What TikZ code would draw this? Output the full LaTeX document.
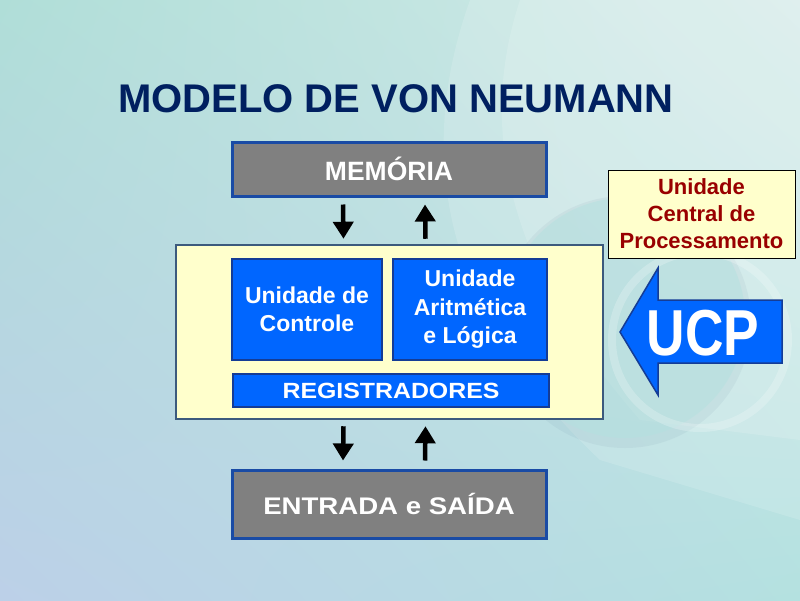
\documentclass[tikz,border=0pt]{standalone}
\usepackage{fontspec}
\setmainfont{Liberation Sans}
\usetikzlibrary{arrows.meta,shadings}
\definecolor{bgA}{RGB}{176,222,216}
\definecolor{bgB}{RGB}{212,235,233}
\definecolor{bgC}{RGB}{188,208,232}
\definecolor{bgD}{RGB}{180,225,224}
\definecolor{titleblue}{RGB}{0,32,96}
\definecolor{boxgray}{RGB}{128,128,128}
\definecolor{edgeblue}{RGB}{25,75,165}
\definecolor{fillblue}{RGB}{0,102,255}
\definecolor{inneredge}{RGB}{20,60,150}
\definecolor{cpuedge}{RGB}{60,90,125}
\definecolor{paleyellow}{RGB}{255,255,204}
\definecolor{darkred}{RGB}{153,0,0}
\tikzset{
  graybox/.style={draw=edgeblue, line width=3pt, fill=boxgray, inner sep=0pt, text=white},
  bluebox/.style={draw=inneredge, line width=2.5pt, fill=fillblue, inner sep=0pt, text=white, align=center},
  cpubox/.style={draw=cpuedge, line width=2.5pt, fill=paleyellow, inner sep=0pt},
  labelbox/.style={draw=black, line width=1pt, fill=paleyellow, inner sep=0pt, align=center, text=darkred},
  arr/.style={draw=black, line width=4.5pt, -{Triangle[width=20pt,length=17pt]}},
  bigarrow/.style={draw=inneredge, line width=1.5pt, fill=fillblue},
  boxfont/.style={font=\fontsize{23}{28.5}\selectfont\bfseries}
}
\begin{document}
\begin{tikzpicture}[x=1pt,y=-1pt]
\useasboundingbox (0,0) rectangle (800,600);
% background
\shade[upper left=bgA, upper right=bgB, lower left=bgC, lower right=bgD] (0,0) rectangle (800,600);
\fill[white, opacity=0.14] (470,0) .. controls (420,140) and (430,300) .. (600,460) -- (800,520) -- (800,0) -- cycle;
\fill[white, opacity=0.14] (520,0) .. controls (480,120) and (500,260) .. (640,420) -- (800,440) -- (800,0) -- cycle;
\fill[cpuedge, opacity=0.06] (625,322) circle (126);
\fill[bgD, opacity=0.5] (625,318) circle (120);
\draw[white, opacity=0.22, line width=8pt] (700,340) circle (88);
% title
\node[anchor=base west, inner sep=0pt, text=titleblue, font=\fontsize{40}{48}\selectfont\bfseries] (title) at (118,112) {MODELO DE VON NEUMANN};
% boxes
\node[graybox, minimum width=314, minimum height=54, font=\fontsize{26.5}{32}\selectfont\bfseries] (mem) at (389,169) {MEMÓRIA};
\node[cpubox, minimum width=427, minimum height=174] (cpu) at (389.5,332) {};
\node[bluebox, boxfont, minimum width=150, minimum height=101] (uc) at (307,309.5) {Unidade de\\Controle};
\node[bluebox, boxfont, minimum width=154, minimum height=101] (ula) at (470,309.5) {Unidade\\Aritmética\\e Lógica};
\node[bluebox, minimum width=316, minimum height=33, font=\fontsize{22}{26}\selectfont\bfseries] (reg) at (391,390.5) {\scalebox{1.13}[1]{REGISTRADORES}};
\node[graybox, minimum width=314, minimum height=68, font=\fontsize{24}{29}\selectfont\bfseries] (io) at (389,504) {\scalebox{1.15}[1]{ENTRADA e SAÍDA}};
% arrows
\draw[arr] ([shift={(-46pt,-7pt)}]mem.south) -- ([shift={(-46pt,5pt)}]cpu.north);
\draw[arr] ([shift={(36pt,5pt)}]cpu.north) -- ([shift={(36pt,-7pt)}]mem.south);
\draw[arr] ([shift={(-46pt,-6pt)}]cpu.south) -- ([shift={(-46pt,8pt)}]io.north);
\draw[arr] ([shift={(36pt,8pt)}]io.north) -- ([shift={(36pt,-6pt)}]cpu.south);
% label
\node[labelbox, minimum width=187, minimum height=88, font=\fontsize{22}{27}\selectfont\bfseries] (lbl) at (701.5,214) {Unidade\\Central de\\Processamento};
% UCP arrow
\draw[bigarrow] (620,332) -- (658,268) -- (658,300) -- (782,300) -- (782,363) -- (658,363) -- (658,395) -- cycle;
\node[text=white, inner sep=0pt, font=\fontsize{65}{70}\selectfont\bfseries] (ucp) at (703,333) {\scalebox{0.82}[1]{UCP}};
\end{tikzpicture}
\end{document}
